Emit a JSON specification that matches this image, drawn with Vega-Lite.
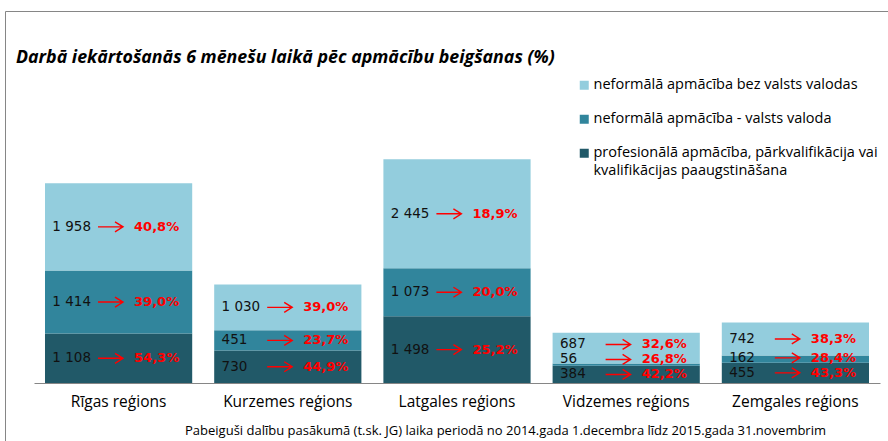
{
  "$schema": "https://vega.github.io/schema/vega-lite/v6.json",
  "width": 890,
  "height": 440,
  "autosize": {"type": "none"},
  "padding": {"left": 5, "top": 11, "right": 0, "bottom": 0},
  "background": "white",
  "title": {
    "text": "Darbā iekārtošanās 6 mēnešu laikā pēc apmācību beigšanas (%)",
    "anchor": "start", "frame": "group", "font": "Open Sans", "fontSize": 17.8,
    "fontWeight": "bold", "fontStyle": "italic", "color": "#000000",
    "dx": 11, "dy": 70, "offset": 0, "baseline": "alphabetic"
  },
  "data": {
    "values": [
      {"region": "Rīgas reģions", "category": "profesionālā apmācība, pārkvalifikācija vai kvalifikācijas paaugstināšana", "value": 1108, "pct": 0.543},
      {"region": "Rīgas reģions", "category": "neformālā apmācība - valsts valoda", "value": 1414, "pct": 0.390},
      {"region": "Rīgas reģions", "category": "neformālā apmācība bez valsts valodas", "value": 1958, "pct": 0.408},
      {"region": "Kurzemes reģions", "category": "profesionālā apmācība, pārkvalifikācija vai kvalifikācijas paaugstināšana", "value": 730, "pct": 0.449},
      {"region": "Kurzemes reģions", "category": "neformālā apmācība - valsts valoda", "value": 451, "pct": 0.237},
      {"region": "Kurzemes reģions", "category": "neformālā apmācība bez valsts valodas", "value": 1030, "pct": 0.390},
      {"region": "Latgales reģions", "category": "profesionālā apmācība, pārkvalifikācija vai kvalifikācijas paaugstināšana", "value": 1498, "pct": 0.252},
      {"region": "Latgales reģions", "category": "neformālā apmācība - valsts valoda", "value": 1073, "pct": 0.200},
      {"region": "Latgales reģions", "category": "neformālā apmācība bez valsts valodas", "value": 2445, "pct": 0.189},
      {"region": "Vidzemes reģions", "category": "profesionālā apmācība, pārkvalifikācija vai kvalifikācijas paaugstināšana", "value": 384, "pct": 0.422},
      {"region": "Vidzemes reģions", "category": "neformālā apmācība - valsts valoda", "value": 56, "pct": 0.268},
      {"region": "Vidzemes reģions", "category": "neformālā apmācība bez valsts valodas", "value": 687, "pct": 0.326},
      {"region": "Zemgales reģions", "category": "profesionālā apmācība, pārkvalifikācija vai kvalifikācijas paaugstināšana", "value": 455, "pct": 0.433},
      {"region": "Zemgales reģions", "category": "neformālā apmācība - valsts valoda", "value": 162, "pct": 0.284},
      {"region": "Zemgales reģions", "category": "neformālā apmācība bez valsts valodas", "value": 742, "pct": 0.383}
    ]
  },
  "transform": [
    {"calculate": "indexof(['profesionālā apmācība, pārkvalifikācija vai kvalifikācijas paaugstināšana','neformālā apmācība - valsts valoda','neformālā apmācība bez valsts valodas'], datum.category)", "as": "order"},
    {"stack": "value", "groupby": ["region"], "sort": [{"field": "order", "order": "ascending"}], "as": ["v0", "v1"]},
    {"calculate": "(datum.v0 + datum.v1) / 2 - 336 * datum.order", "as": "k"},
    {"window": [{"op": "max", "field": "k", "as": "kmax"}], "groupby": ["region"], "sort": [{"field": "order", "order": "ascending"}], "frame": [null, 0]},
    {"calculate": "336 * datum.order + max(180, datum.kmax)", "as": "ly"}
  ],
  "encoding": {
    "x": {
      "field": "region", "type": "nominal",
      "scale": {"domain": ["Rīgas reģions", "Kurzemes reģions", "Latgales reģions", "Vidzemes reģions", "Zemgales reģions"], "range": [29, 875], "paddingInner": 0.13, "paddingOuter": 0.065},
      "axis": {
        "title": "Pabeiguši dalību pasākumā (t.sk. JG) laika periodā no 2014.gada 1.decembra līdz 2015.gada  31.novembrim",
        "titleFont": "Open Sans", "titleFontSize": 13, "titleFontWeight": "normal", "titleColor": "#000000",
        "titleX": 500, "titleY": 51, "titleAlign": "center", "titleBaseline": "alphabetic",
        "offset": -68, "domainColor": "#868686", "domainWidth": 1, "ticks": false, "tickSize": 0,
        "labelPadding": 11, "labelFont": "Open Sans", "labelFontSize": 15.5, "labelColor": "#000000",
        "labelBaseline": "top", "labelAngle": 0, "grid": false
      }
    }
  },
  "layer": [
    {
      "mark": {"type": "bar"},
      "encoding": {
        "y": {"field": "value", "type": "quantitative", "stack": "zero", "scale": {"domain": [0, 8341], "range": [372, 0], "nice": false, "zero": true}, "axis": null},
        "color": {
          "field": "category", "type": "nominal",
          "scale": {"domain": ["neformālā apmācība bez valsts valodas", "neformālā apmācība - valsts valoda", "profesionālā apmācība, pārkvalifikācija vai kvalifikācijas paaugstināšana"], "range": ["#93CDDD", "#31859C", "#215968"]},
          "legend": {
            "orient": "none", "legendX": 572, "legendY": 67, "title": null,
            "labelFont": "Open Sans", "labelFontSize": 14.5, "labelColor": "#000000", "labelLimit": 400,
            "labelOffset": 2, "symbolType": "square", "symbolSize": 81, "symbolStrokeWidth": 0,
            "rowPadding": 19,
            "labelExpr": "datum.label == 'profesionālā apmācība, pārkvalifikācija vai kvalifikācijas paaugstināšana' ? ['profesionālā apmācība, pārkvalifikācija vai', 'kvalifikācijas paaugstināšana'] : datum.label"
          }
        },
        "order": {"field": "order", "type": "quantitative"}
      }
    },
    {
      "mark": {"type": "text", "align": "left", "baseline": "middle", "font": "DejaVu Sans", "fontSize": 13.5, "color": "#111111"},
      "encoding": {
        "x": {"field": "region", "type": "nominal", "bandPosition": 0.05},
        "y": {"field": "ly", "type": "quantitative", "axis": null},
        "text": {"field": "value", "type": "quantitative", "format": ",d"}
      }
    },
    {
      "mark": {"type": "point", "shape": "M-1,0L1,0M0.36,-0.4L1,0L0.36,0.4", "size": 625, "filled": false, "stroke": "#FF0000", "strokeWidth": 1.4, "opacity": 1},
      "encoding": {
        "x": {"field": "region", "type": "nominal", "bandPosition": 0.445},
        "y": {"field": "ly", "type": "quantitative", "axis": null}
      }
    },
    {
      "mark": {"type": "text", "align": "left", "baseline": "middle", "font": "DejaVu Sans", "fontSize": 13, "fontWeight": "bold", "color": "#FF0000"},
      "encoding": {
        "x": {"field": "region", "type": "nominal", "bandPosition": 0.605},
        "y": {"field": "ly", "type": "quantitative", "axis": null},
        "text": {"field": "pct", "type": "quantitative", "format": ".1%"}
      }
    }
  ],
  "config": {
    "locale": {"number": {"decimal": ",", "thousands": " ", "grouping": [3], "currency": ["", " €"]}},
    "view": {"stroke": "#868686", "strokeWidth": 1},
    "style": {"guide-label": {"lineHeight": 18}}
  }
}
